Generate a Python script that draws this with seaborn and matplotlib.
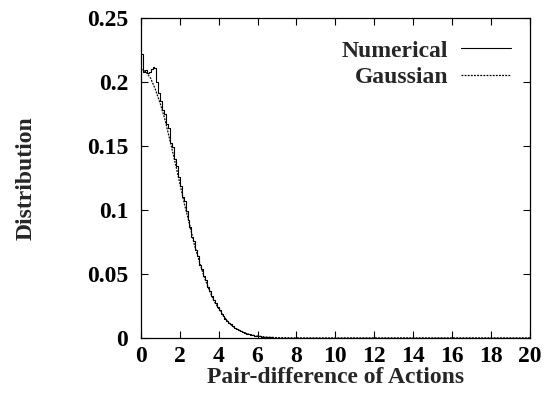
import numpy as np
import pandas as pd
import matplotlib
matplotlib.use("Agg")
import matplotlib.pyplot as plt
import seaborn as sns

# Numerical distribution (step histogram, left bin edges)
num_x = [0.0, 0.1, 0.2, 0.3, 0.4, 0.5, 0.6, 0.7, 0.8, 0.9,
         1.0, 1.1, 1.2, 1.3, 1.4, 1.5, 1.6, 1.7, 1.8, 1.9,
         2.0, 2.1, 2.2, 2.3, 2.4, 2.5, 2.6, 2.7, 2.8, 2.9,
         3.0, 3.1, 3.2, 3.3, 3.4, 3.5, 3.6, 3.7, 3.8, 3.9,
         4.0, 4.1, 4.2, 4.3, 4.4, 4.5, 4.6, 4.7, 4.8, 4.9,
         5.0, 5.1, 5.2, 5.3, 5.4, 5.5, 5.6, 5.7, 5.8, 5.9,
         6.0, 6.2, 6.4, 6.6, 6.8, 7.0, 7.4, 8.0, 20.0]
num_y = [0.222, 0.208, 0.209, 0.207, 0.208, 0.210, 0.212, 0.211, 0.200, 0.191,
         0.185, 0.178, 0.175, 0.167, 0.164, 0.152, 0.149, 0.140, 0.134, 0.126,
         0.119, 0.110, 0.107, 0.099, 0.092, 0.087, 0.079, 0.076, 0.069, 0.064,
         0.057, 0.054, 0.048, 0.045, 0.040, 0.037, 0.033, 0.030, 0.027, 0.024,
         0.022, 0.019, 0.0175, 0.015, 0.0135, 0.012, 0.0105, 0.0093, 0.008, 0.0071,
         0.0061, 0.0053, 0.0046, 0.0040, 0.0034, 0.0030, 0.0025, 0.0021, 0.0018, 0.0016,
         0.0012, 0.0009, 0.0007, 0.0005, 0.0003, 0.0002, 0.0001, 0.0, 0.0]

# Gaussian fit curve
gau_x = [0.0, 0.25, 0.5, 0.75, 1.0, 1.25, 1.5, 1.75, 2.0, 2.25, 2.5, 2.75,
         3.0, 3.25, 3.5, 3.75, 4.0, 4.25, 4.5, 4.75, 5.0, 5.5, 6.0, 6.5,
         7.0, 7.5, 8.0, 20.0]
gau_y = [0.210, 0.208, 0.203, 0.194, 0.183, 0.170, 0.154, 0.138, 0.121, 0.104,
         0.089, 0.073, 0.060, 0.048, 0.038, 0.029, 0.023, 0.017, 0.012, 0.0088,
         0.0063, 0.0031, 0.0014, 0.0006, 0.0002, 0.0001, 0.0, 0.0]

x_ticks = [0, 2, 4, 6, 8, 10, 12, 14, 16, 18, 20]
y_ticks = [0, 0.05, 0.1, 0.15, 0.2, 0.25]
y_tick_labels = ["0", "0.05", "0.1", "0.15", "0.2", "0.25"]

sns.set_theme(style="ticks")
plt.rcParams['font.family'] = ['Liberation Serif', 'DejaVu Serif']
plt.rcParams['font.weight'] = 'bold'

FS = 17

fig = plt.figure(figsize=(5.48, 3.98), dpi=100)
ax = fig.add_axes([0.257, 0.151, 0.710, 0.804])

df_num = pd.DataFrame({"x": num_x, "y": num_y})
df_gau = pd.DataFrame({"x": gau_x, "y": gau_y})

sns.lineplot(data=df_num, x="x", y="y", ax=ax, color="black", linewidth=0.8,
             drawstyle="steps-post", label="Numerical")
sns.lineplot(data=df_gau, x="x", y="y", ax=ax, color="black", linewidth=0.9,
             linestyle=(0, (1.5, 1.0)), label="Gaussian")

ax.set_xlim(0, 20)
ax.set_ylim(0, 0.25)
ax.set_xticks(x_ticks)
ax.set_xticklabels([str(t) for t in x_ticks])
ax.set_yticks(y_ticks)
ax.set_yticklabels(y_tick_labels)
ax.tick_params(direction="in", length=5, width=0.8, top=True, right=True,
               labelsize=FS, colors="black")
ax.tick_params(axis="y", pad=9)
ax.tick_params(axis="x", pad=6)
for lab in ax.get_xticklabels() + ax.get_yticklabels():
    lab.set_fontweight("bold")
for s in ax.spines.values():
    s.set_linewidth(0.9)
    s.set_color("black")

ax.set_xlabel("Pair-difference of Actions", fontsize=FS, fontweight="bold", labelpad=0)
ax.set_ylabel("Distribution", fontsize=FS, fontweight="bold", labelpad=36)

leg = ax.legend(loc="upper right", frameon=False, markerfirst=False,
                fontsize=FS, handlelength=2.1, handletextpad=0.55,
                labelspacing=0.2, borderaxespad=0.0,
                bbox_to_anchor=(0.975, 0.96))
for t in leg.get_texts():
    t.set_fontweight("bold")

fig.savefig("out.png", dpi=100)
